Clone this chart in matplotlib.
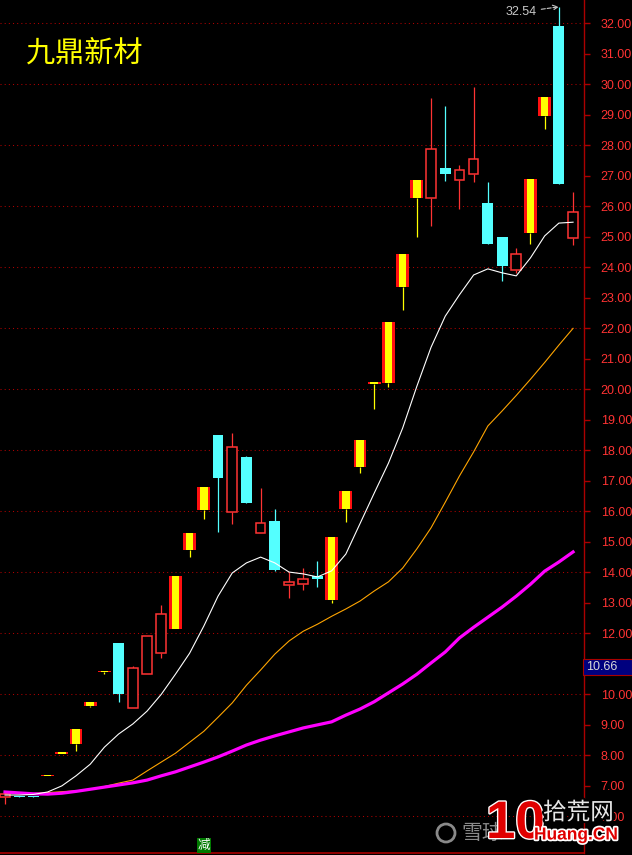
import matplotlib
matplotlib.use('Agg')
import matplotlib.pyplot as plt
from matplotlib.patches import Rectangle, Ellipse
import matplotlib.patheffects as pe
from matplotlib import font_manager as fm

# ---------------- data ----------------
title = '九鼎新材'
opens  = [6.63, 6.68, 6.66, 7.32, 8.05, 8.37, 9.62, 10.73, 11.70, 9.55,
          10.67, 11.35, 12.14, 14.73, 16.04, 18.49, 15.98, 17.78, 15.29, 15.68,
          13.58, 13.62, 13.88, 13.10, 16.07, 17.45, 20.19, 20.21, 23.36, 26.27,
          26.27, 27.26, 26.86, 27.06, 26.11, 24.99, 23.91, 25.12, 28.96, 31.91,
          24.96]
highs  = [6.73, 6.68, 6.66, 7.32, 8.05, 8.86, 9.75, 10.73, 11.70, 10.93,
          11.91, 12.93, 13.89, 15.28, 16.81, 18.49, 18.57, 17.81, 16.77, 16.08,
          14.01, 14.14, 14.37, 15.16, 16.68, 18.35, 20.19, 22.21, 24.43, 26.87,
          29.56, 29.29, 27.35, 29.91, 26.80, 24.99, 24.63, 26.88, 29.57, 32.54,
          26.47]
lows   = [6.40, 6.62, 6.62, 7.32, 8.05, 8.14, 9.58, 10.67, 9.75, 9.55,
          10.67, 11.19, 12.14, 14.50, 15.75, 15.32, 15.59, 16.27, 15.29, 14.04,
          13.16, 13.42, 13.52, 13.00, 15.65, 17.25, 19.35, 20.08, 22.60, 24.99,
          25.35, 26.83, 25.91, 26.80, 24.76, 23.55, 23.81, 24.76, 28.53, 26.73,
          24.73]
closes = [6.73, 6.64, 6.62, 7.32, 8.05, 8.86, 9.75, 10.73, 10.01, 10.86,
          11.91, 12.63, 13.89, 15.28, 16.81, 17.09, 18.11, 16.27, 15.62, 14.08,
          13.68, 13.78, 13.78, 15.16, 16.68, 18.35, 20.19, 22.21, 24.43, 26.87,
          27.88, 27.06, 27.19, 27.55, 24.76, 24.04, 24.44, 26.88, 29.57, 26.73,
          25.81]
# candles highlighted in yellow (limit-up days)
limit_up_days = [3, 4, 5, 6, 7, 12, 13, 14, 23, 24, 25, 26, 27, 28, 29, 37, 38]

ma_white = [6.70, 6.70, 6.72, 6.80, 7.00, 7.33, 7.71, 8.27, 8.70, 9.03,
            9.45, 10.00, 10.66, 11.35, 12.24, 13.22, 13.98, 14.31, 14.50, 14.31,
            14.01, 13.95, 13.85, 14.05, 14.60, 15.60, 16.60, 17.58, 18.73, 20.10,
            21.38, 22.40, 23.10, 23.75, 23.95, 23.82, 23.72, 24.31, 25.03, 25.45,
            25.48]
ma_orange = [6.75, 6.75, 6.75, 6.78, 6.81, 6.84, 6.88, 6.98, 7.09, 7.19,
             7.49, 7.78, 8.07, 8.43, 8.79, 9.25, 9.72, 10.30, 10.80, 11.32,
             11.75, 12.07, 12.30, 12.56, 12.80, 13.06, 13.39, 13.69, 14.14, 14.77,
             15.46, 16.30, 17.16, 17.95, 18.80, 19.29, 19.80, 20.33, 20.88, 21.45,
             22.00]
ma_magenta = [6.80, 6.77, 6.74, 6.73, 6.76, 6.82, 6.89, 6.96, 7.03, 7.10,
              7.19, 7.33, 7.46, 7.62, 7.78, 7.95, 8.14, 8.34, 8.50, 8.64,
              8.77, 8.90, 9.00, 9.10, 9.32, 9.52, 9.76, 10.05, 10.34, 10.66,
              11.03, 11.39, 11.85, 12.20, 12.53, 12.86, 13.22, 13.61, 14.04, 14.34,
              14.67]

ytick_values = list(range(6, 33))
hidden_tick_labels = [11]          # covered by the cursor price box in the reference
grid_values = list(range(6, 33, 2))
high_label = '32.54'
cursor_label = '10.66'
signal_text = '减'

# ---------------- style ----------------
RED = '#FF3333'
CYAN = '#54FFFF'
YELLOW = '#FFFF00'
DARKRED = '#AA0000'

names = {f.name for f in fm.fontManager.ttflist}
narrow = 'Liberation Sans Narrow' in names
num_family = ['Liberation Sans Narrow', 'DejaVu Sans'] if narrow else ['Liberation Sans', 'DejaVu Sans']
num_size = 10.5 if narrow else 9
cjk = ['Noto Sans CJK SC', 'DejaVu Sans']

W, H = 632, 855
fig = plt.figure(figsize=(W / 100, H / 100), dpi=100, facecolor='black')
ax = fig.add_axes([0, 2 / H, 584 / W, 853 / H], facecolor='black')
ax.set_xlim(-0.352, 40.77)
ax.set_ylim(4.80, 32.764)

# grid
for g in grid_values:
    ax.axhline(g, color='#B00000', lw=0.75, ls=(0, (1, 3)), zorder=1)

# candles
n = len(opens)
for i in range(n):
    o, h, l, c = opens[i], highs[i], lows[i], closes[i]
    top, bot = max(o, c), min(o, c)
    hgt = max(top - bot, 0.045)
    if i in limit_up_days:
        if h > top:
            ax.vlines(i, top, h, color=YELLOW, lw=0.9, zorder=2)
        if l < bot:
            ax.vlines(i, l, bot, color=YELLOW, lw=0.9, zorder=2)
        ax.add_patch(Rectangle((i - 0.45, bot), 0.90, hgt, fc='#FF1010', ec='none', zorder=3))
        ax.add_patch(Rectangle((i - 0.27, bot), 0.54, hgt, fc=YELLOW, ec='none', zorder=3))
    elif c < o:
        ax.vlines(i, l, h, color=CYAN, lw=0.9, zorder=2)
        ax.add_patch(Rectangle((i - 0.385, bot), 0.77, hgt, fc=CYAN, ec='none', zorder=3))
    else:
        if h > top:
            ax.vlines(i, top, h, color=RED, lw=0.9, zorder=2)
        if l < bot:
            ax.vlines(i, l, bot, color=RED, lw=0.9, zorder=2)
        ax.add_patch(Rectangle((i - 0.34, bot), 0.68, hgt, fc='black', ec=RED, lw=1.1, zorder=3))

xs = list(range(n))
ax.plot(xs, ma_orange, color='#FFA500', lw=0.8, zorder=4)
ax.plot(xs, ma_magenta, color='#FF00FF', lw=2.3, zorder=5)
ax.plot(xs, ma_white, color='white', lw=0.8, zorder=6)

# axes styling
for s in ['left', 'top']:
    ax.spines[s].set_visible(False)
ax.spines['right'].set_color(DARKRED)
ax.spines['right'].set_linewidth(1.0)
ax.spines['bottom'].set_color(DARKRED)
ax.spines['bottom'].set_linewidth(1.2)
ax.set_xticks([])
ax.yaxis.tick_right()
ax.set_yticks(ytick_values)
ax.set_yticklabels(['' if v in hidden_tick_labels else f'{v:.2f}' for v in ytick_values])
ax.tick_params(axis='y', color=DARKRED, labelcolor=RED, length=4, width=1, pad=8,
               labelsize=num_size)
for t in ax.get_yticklabels():
    t.set_family(num_family)

# title
fig.text(26 / W, 1 - 54 / H, title, color=YELLOW, fontsize=21, family=cjk,
         ha='left', va='center')

# highest price annotation
ax.annotate(high_label, xy=(39, highs[39]), xycoords='data',
            xytext=(506, H - 12), textcoords='figure pixels',
            color='#C8C8C8', fontsize=num_size, family=num_family, ha='left', va='center',
            arrowprops=dict(arrowstyle='->', ls='--', color='#C8C8C8', lw=0.8,
                            shrinkA=1, shrinkB=0))

# cursor price box on the axis
fig.add_artist(Rectangle((583 / W, (H - 675) / H), 49 / W, 16 / H, transform=fig.transFigure,
                         fc='#00007F', ec=DARKRED, lw=0.8, zorder=5))
fig.text(586 / W, 1 - 667 / H, cursor_label, color='#D8D8D8', fontsize=num_size,
         family=num_family, ha='left', va='center', zorder=6)

# signal marker
ax.text(14, 5.04, signal_text, color='white', fontsize=9, family=cjk, ha='center', va='center',
        bbox=dict(boxstyle='square,pad=0.08', fc='#007A00', ec='none'), zorder=7)

# watermarks
fig.add_artist(Ellipse((446 / W, 1 - 833 / H), 18 / W, 18 / H, transform=fig.transFigure,
                       fc='none', ec='#8A8A8A', lw=2, zorder=7))
fig.text(461 / W, 1 - 833 / H, '雪球', color='#8A8A8A', fontsize=15, family=cjk,
         ha='left', va='center', zorder=7)
fig.text(486 / W, 1 - 824 / H, '10', color='#E00000', fontsize=38, weight='bold',
         family=num_family, ha='left', va='center', zorder=8,
         path_effects=[pe.withStroke(linewidth=2, foreground='white')])
fig.text(543 / W, 1 - 813 / H, '拾荒网', color='#E8E8E8', fontsize=17, family=cjk,
         ha='left', va='center', zorder=8,
         path_effects=[pe.withStroke(linewidth=3, foreground='black')])
fig.text(534 / W, 1 - 835 / H, 'Huang.CN', color='#E00000', fontsize=12.5, weight='bold',
         family=['Liberation Sans', 'DejaVu Sans'], ha='left', va='center', zorder=8,
         path_effects=[pe.withStroke(linewidth=2.5, foreground='white')])

fig.savefig('out.png', dpi=100, facecolor='black')
